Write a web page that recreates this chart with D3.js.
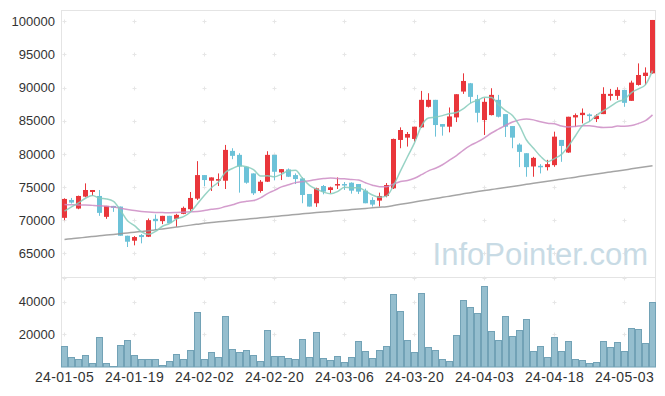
<!DOCTYPE html>
<html>
<head>
<meta charset="utf-8">
<script src="https://cdn.jsdelivr.net/npm/d3@7"></script>
<style>
    body { margin: 0; background: #fff; }
    svg { display: block; font-family: "Liberation Sans", Arial, sans-serif; }
</style>
</head>
<body>
<div id="chart"></div>
<script>
// trading days (yy-mm-dd)
var dates = [
    '24-01-05','24-01-08','24-01-09','24-01-10','24-01-11','24-01-12','24-01-15','24-01-16','24-01-17','24-01-18',
    '24-01-19','24-01-22','24-01-23','24-01-24','24-01-25','24-01-26','24-01-29','24-01-30','24-01-31','24-02-01',
    '24-02-02','24-02-05','24-02-06','24-02-07','24-02-08','24-02-13','24-02-14','24-02-15','24-02-16','24-02-19',
    '24-02-20','24-02-21','24-02-22','24-02-23','24-02-26','24-02-27','24-02-28','24-02-29','24-03-04','24-03-05',
    '24-03-06','24-03-07','24-03-08','24-03-11','24-03-12','24-03-13','24-03-14','24-03-15','24-03-18','24-03-19',
    '24-03-20','24-03-21','24-03-22','24-03-25','24-03-26','24-03-27','24-03-28','24-03-29','24-04-01','24-04-02',
    '24-04-03','24-04-04','24-04-05','24-04-08','24-04-09','24-04-11','24-04-12','24-04-15','24-04-16','24-04-17',
    '24-04-18','24-04-19','24-04-22','24-04-23','24-04-24','24-04-25','24-04-26','24-04-29','24-04-30','24-05-02',
    '24-05-03','24-05-07','24-05-08','24-05-09','24-05-10'
];

var open = [
    70350,73050,71750,73550,74250,73650,70500,72150,72050,67650,
    66900,67750,67500,70200,69850,70650,70200,70950,71650,73250,
    76800,75950,75950,75950,80450,79850,78050,77050,74400,75800,
    79850,77200,77650,76800,76300,73950,72550,75150,74550,75250,
    75450,75650,75450,74450,73050,72950,73650,74800,82100,82450,
    82250,84000,87100,88150,84500,84100,85500,89400,90650,88250,
    85100,85850,88150,86000,84200,81400,80100,78100,78200,78000,
    78300,82100,80200,85500,85850,85950,85250,86000,88750,88750,
    89650,88000,90400,91750,92150
];
var high = [
    73300,73350,73700,75550,74550,74550,72150,72150,72050,67650,
    67600,67900,70250,70850,70650,70650,70950,72050,74250,78900,
    76800,76450,77050,81350,80850,80100,78050,77050,76050,80400,
    79850,77700,77800,77050,76450,73950,74900,75300,75050,76450,
    75750,75700,75450,74750,73450,74150,75600,82300,84000,83300,
    84100,89500,89150,88150,84500,87000,89000,92150,90700,88900,
    88400,89900,88900,86000,84200,81600,80100,79550,78450,79100,
    83350,82100,85600,86100,86850,86100,86000,90050,89800,90050,
    89650,91050,93650,93050,100200
];
var low = [
    70000,72500,71650,73450,73650,70650,70200,71250,67650,65950,
    66200,66500,67450,68500,69400,69550,69000,70900,71400,73050,
    75150,74400,75150,74700,79200,74150,75500,73800,74150,75750,
    76000,76050,76500,75450,72550,72050,72000,73900,74050,74700,
    74550,74000,73950,72550,72050,72050,73450,74700,80850,81100,
    81850,83900,87000,82600,82750,83250,84800,89050,87650,84750,
    82850,85800,85500,82550,80850,78000,76550,76550,77050,77500,
    78050,78800,80150,84100,84600,84850,84800,86000,88050,88150,
    87100,88000,90300,90400,92100
];
var close = [
    73200,72650,73650,74550,74550,71100,72150,71850,67650,66750,
    67450,67450,70000,69850,70650,69550,70800,71850,73350,76800,
    76050,76450,76200,80600,79700,78100,75650,74050,75800,79850,
    77300,77700,76550,76200,73800,72050,74800,74300,74950,75450,
    75300,74450,74300,72550,72350,73650,75300,82250,83600,83000,
    84100,88150,88150,84350,84100,85650,89000,91000,88600,86200,
    87850,88900,85600,84100,82450,80300,78000,79400,78000,78450,
    82600,81200,85600,85850,86200,85700,85750,89050,89050,89650,
    87700,90750,91900,92250,100200
];
var volume = [
    12640,5890,4660,7120,2210,18160,2210,370,13250,16320,
    7120,4660,4660,4660,980,3440,7730,4660,10180,33500,
    4660,8960,5890,31040,10800,8960,10180,7120,3440,22450,
    6500,6500,5280,4660,16930,5890,21230,5280,4050,6500,
    2820,5890,15700,9570,5280,10180,12640,44540,34110,16320,
    8960,45150,12020,10180,4660,3440,19390,40860,36560,32880,
    49450,21840,16320,31040,18770,22450,29200,9570,12640,5890,
    18160,9570,15700,4660,4050,2210,2820,15700,12020,15090,
    9570,23680,23070,14480,39630
];

// moving averages as drawn
var ma5 = [
    71350,72000,72600,73300,73720,73300,73200,72840,71460,69900,
    69170,68230,67860,68300,69080,69500,70170,70540,71240,72470,
    73770,74900,75770,77220,77800,78210,78050,77620,76660,76690,
    76530,76940,77440,77520,76310,75260,74680,74230,73980,74310,
    74960,74890,74890,74410,73790,73460,73630,75220,77430,79560,
    81650,84220,85400,85550,85770,86080,86250,86820,87670,88090,
    88530,88510,87430,86530,85780,84270,82090,80850,79630,78830,
    79290,79930,81170,82740,84290,84910,85820,86510,87150,87840,
    88240,89240,89810,90450,92560
];
var ma20 = [
    72350,72320,72300,72270,72230,72180,72100,71980,71800,71620,
    71450,71320,71230,71170,71140,71130,71160,71200,71250,71290,
    71440,71630,71750,72060,72310,72660,72840,72950,73360,74010,
    74500,75020,75340,75660,75820,75940,76140,76270,76350,76280,
    76240,76140,76050,75640,75280,75050,75040,75450,75840,75990,
    76330,76860,77440,77840,78360,79040,79750,80580,81270,81800,
    82430,83150,83720,84300,84800,85130,85270,85130,84850,84620,
    84540,84200,84070,84140,84250,84250,84090,83990,84010,84190,
    84180,84270,84590,85000,85880
];
var ma60 = [
    67100,67200,67300,67420,67530,67640,67750,67850,67960,68070,
    68180,68290,68400,68540,68680,68820,68960,69100,69250,69390,
    69530,69640,69750,69850,69950,70050,70150,70250,70350,70450,
    70550,70650,70750,70850,70950,71050,71140,71230,71320,71410,
    71500,71590,71680,71770,71860,71950,72030,72210,72390,72560,
    72740,72920,73090,73270,73440,73620,73800,73970,74150,74310,
    74460,74620,74780,74930,75090,75240,75400,75560,75710,75870,
    76020,76180,76340,76490,76650,76800,76960,77110,77270,77430,
    77580,77740,77890,78050,78200
];

var priceTicks = [65000, 70000, 75000, 80000, 85000, 90000, 95000, 100000];
var volumeTicks = [20000, 40000];
var labelDates = dates.filter(function (d, i) { return i % 10 === 0; });

var width = 665, height = 396;
var plotLeft = 61.5, plotRight = 655.5, plotTop = 10.5, divider = 277.5, volBottom = 367;

var x = d3.scalePoint()
    .domain(dates)
    .range([64.5, 652.5]);

var y = d3.scaleLinear()
    .domain([65000, 100000])
    .range([253.3, 21.3]);

var yv = d3.scaleLinear()
    .domain([0, 40000])
    .range([volBottom, 301.7]);

var rows = dates.map(function (d, i) {
    return { date: d, o: open[i], h: high[i], l: low[i], c: close[i], v: volume[i] };
});

var upColor = '#e9363b', downColor = '#6cc2d8';

var svg = d3.select('#chart')
    .append('svg')
    .attr('width', width)
    .attr('height', height);

// frame
svg.append('rect')
    .attr('x', plotLeft)
    .attr('y', plotTop)
    .attr('width', plotRight - plotLeft)
    .attr('height', divider - plotTop)
    .attr('fill', 'none')
    .attr('stroke', '#e4e4e4');

svg.append('line')
    .attr('x1', plotLeft).attr('x2', plotLeft)
    .attr('y1', divider).attr('y2', volBottom)
    .attr('stroke', '#e4e4e4');

svg.append('line')
    .attr('x1', plotRight).attr('x2', plotRight)
    .attr('y1', divider).attr('y2', volBottom)
    .attr('stroke', '#e4e4e4');

// grid crosses
var grid = svg.append('g').attr('stroke', '#e6e6e6');
var gridRows = priceTicks.map(y).concat(volumeTicks.map(yv)).concat([divider]);
labelDates.forEach(function (d) {
    var cx = x(d);
    gridRows.forEach(function (gy) {
        var cy = Math.round(gy) + 0.5;
        grid.append('line')
            .attr('x1', cx - 2).attr('x2', cx + 2)
            .attr('y1', cy).attr('y2', cy);
        grid.append('line')
            .attr('x1', cx).attr('x2', cx)
            .attr('y1', cy - 2).attr('y2', cy + 2);
    });
});

// watermark
svg.append('text')
    .attr('x', 648)
    .attr('y', 265)
    .attr('text-anchor', 'end')
    .attr('font-size', 31)
    .attr('fill', '#c8dbe5')
    .text('InfoPointer.com');

// y axis labels
svg.append('g')
    .selectAll('text')
    .data(priceTicks)
    .join('text')
    .attr('x', 55)
    .attr('y', function (d) { return y(d); })
    .attr('dy', '0.36em')
    .attr('text-anchor', 'end')
    .attr('font-size', 13)
    .attr('fill', '#333')
    .text(function (d) { return d; });

svg.append('g')
    .selectAll('text')
    .data(volumeTicks)
    .join('text')
    .attr('x', 55)
    .attr('y', function (d) { return yv(d); })
    .attr('dy', '0.36em')
    .attr('text-anchor', 'end')
    .attr('font-size', 13)
    .attr('fill', '#333')
    .text(function (d) { return d; });

// x axis labels
svg.append('g')
    .selectAll('text')
    .data(labelDates)
    .join('text')
    .attr('x', function (d) { return x(d); })
    .attr('y', 381.5)
    .attr('text-anchor', 'middle')
    .attr('font-size', 14)
    .attr('letter-spacing', '0.4px')
    .attr('fill', '#333')
    .text(function (d) { return d; });

// volume bars
svg.append('g')
    .selectAll('rect')
    .data(rows)
    .join('rect')
    .attr('x', function (d) { return x(d.date) - 3; })
    .attr('y', function (d) { return Math.round(yv(d.v)) + 0.5; })
    .attr('width', 6)
    .attr('height', function (d) { return Math.max(0, volBottom - Math.round(yv(d.v)) - 0.5); })
    .attr('fill', '#95bece')
    .attr('stroke', '#72a2b6');

// candle wicks
var candles = svg.append('g');
candles.selectAll('line')
    .data(rows)
    .join('line')
    .attr('x1', function (d) { return x(d.date); })
    .attr('x2', function (d) { return x(d.date); })
    .attr('y1', function (d) { return y(d.h); })
    .attr('y2', function (d) { return y(d.l); })
    .attr('stroke', function (d) { return d.c >= d.o ? upColor : downColor; });

// candle bodies
candles.selectAll('rect')
    .data(rows)
    .join('rect')
    .attr('x', function (d) { return x(d.date) - 2.5; })
    .attr('y', function (d) { return y(Math.max(d.o, d.c)); })
    .attr('width', 5)
    .attr('height', function (d) { return Math.max(1.5, Math.abs(y(d.o) - y(d.c))); })
    .attr('fill', function (d) { return d.c >= d.o ? upColor : downColor; });

// moving average lines
function maLine(values, color) {
    var line = d3.line()
        .x(function (d, i) { return x(dates[i]); })
        .y(function (d) { return y(d); })
        .curve(d3.curveMonotoneX);
    svg.append('path')
        .attr('d', line(values))
        .attr('fill', 'none')
        .attr('stroke', color)
        .attr('stroke-width', 1.5)
        .attr('stroke-opacity', 0.85);
}

maLine(ma60, '#959595');
maLine(ma20, '#cd8cc4');
maLine(ma5, '#86cbbb');
</script>
</body>
</html>
